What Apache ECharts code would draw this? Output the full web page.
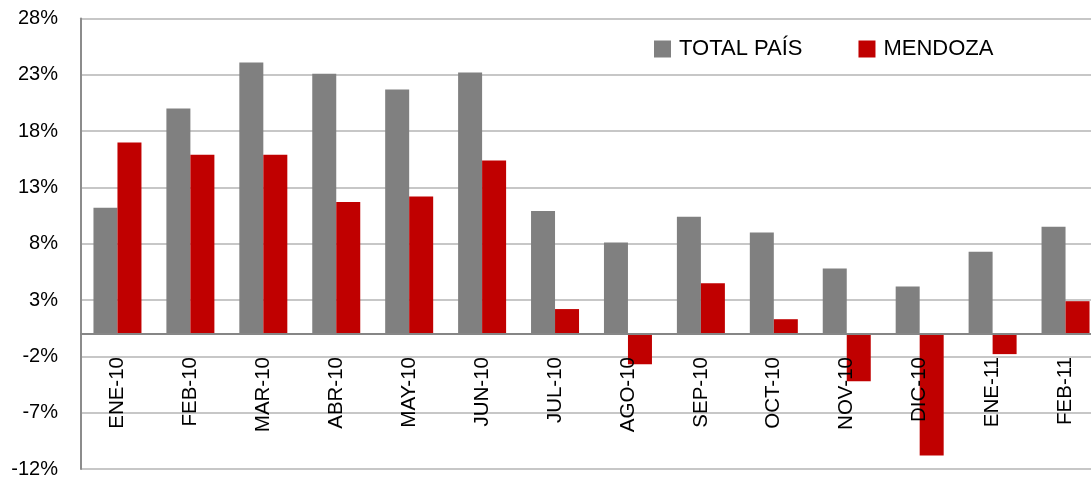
<!DOCTYPE html>
<html>
<head>
<meta charset="utf-8">
<script src="https://cdn.jsdelivr.net/npm/echarts@6/dist/echarts.min.js"></script>
<style>
  html, body { margin: 0; padding: 0; background: #fff; }
  #chart { width: 1091px; height: 482px; }
</style>
</head>
<body>
<div id="chart"></div>
<script>
// datos
const meses = ['ENE-10', 'FEB-10', 'MAR-10', 'ABR-10', 'MAY-10', 'JUN-10', 'JUL-10',
  'AGO-10', 'SEP-10', 'OCT-10', 'NOV-10', 'DIC-10', 'ENE-11', 'FEB-11'];
const totalPais = [11.2, 20.0, 24.1, 23.1, 21.7, 23.2, 10.9, 8.1, 10.4, 9.0, 5.8, 4.2, 7.3, 9.5];
const mendoza = [17.0, 15.9, 15.9, 11.7, 12.2, 15.4, 2.2, -2.7, 4.5, 1.3, -4.2, -10.8, -1.8, 2.9];

const fuente = '"Liberation Sans", Arial, sans-serif';

let myChart = echarts.init(document.getElementById('chart'));
let option = {
  backgroundColor: '#fff',
  animation: false,
  textStyle: { fontFamily: fuente },
  legend: {
    left: 654,
    top: 37,
    padding: 0,
    icon: 'rect',
    itemWidth: 17,
    itemHeight: 17,
    itemGap: 56,
    textStyle: { fontSize: 22, color: '#000', fontFamily: fuente, padding: [0, 0, 0, 3], lineHeight: 24 },
    data: ['TOTAL PAÍS', 'MENDOZA']
  },
  grid: { left: 81, top: 18.5, width: 1021, height: 450.5, containLabel: false, outerBoundsMode: 'none' },
  xAxis: {
    type: 'category',
    data: meses,
    z: 5, // etiquetas por encima de las barras
    axisLine: { onZero: true, lineStyle: { color: '#868686', width: 2 } },
    axisTick: { show: false },
    // las etiquetas quedan abajo de la grilla, se suben hasta el cero
    axisLabel: { rotate: 90, margin: -112, fontSize: 20.5, color: '#000', fontFamily: fuente },
    splitLine: { show: false }
  },
  yAxis: {
    type: 'value',
    min: -12,
    max: 28,
    interval: 5,
    axisLine: { show: true, lineStyle: { color: '#8c8c8c', width: 2 } },
    axisTick: { show: false },
    axisLabel: { formatter: '{value}%', fontSize: 20, color: '#000', margin: 23, fontFamily: fuente },
    splitLine: { lineStyle: { color: '#b4b4b4', width: 1.5 } }
  },
  series: [
    {
      name: 'TOTAL PAÍS',
      type: 'bar',
      data: totalPais,
      barWidth: 24,
      barGap: '0%',
      itemStyle: { color: '#808080' }
    },
    {
      name: 'MENDOZA',
      type: 'bar',
      data: mendoza,
      barWidth: 24,
      itemStyle: { color: '#c00000' }
    }
  ]
};
myChart.setOption(option);
</script>
</body>
</html>
